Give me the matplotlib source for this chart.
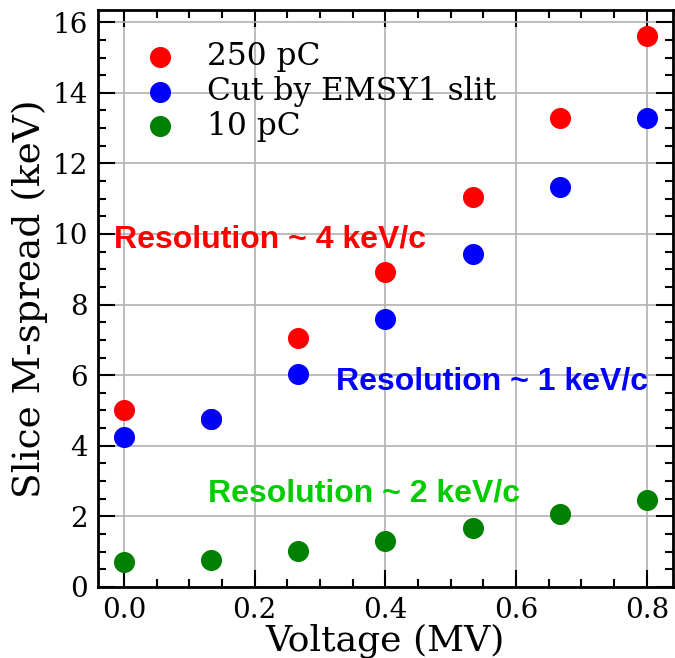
import numpy as np
import matplotlib
matplotlib.use("Agg")
import matplotlib.pyplot as plt
from matplotlib.ticker import MultipleLocator

# data
voltage = [0.0, 0.1333, 0.2667, 0.4, 0.5333, 0.6667, 0.8]
spread_250pc = [5.02, 4.75, 7.05, 8.92, 11.05, 13.3, 15.6]
spread_cut = [4.25, 4.75, 6.02, 7.6, 9.42, 11.32, 13.3]
spread_10pc = [0.7, 0.75, 1.02, 1.3, 1.68, 2.08, 2.45]

plt.rcParams['font.family'] = 'DejaVu Serif'

fig = plt.figure(figsize=(6.75, 6.58), dpi=100)
ax = fig.add_axes([0.145, 0.108, 0.852, 0.877])

ax.scatter(voltage, spread_250pc, s=200, c='red', label='250 pC', zorder=3)
ax.scatter(voltage, spread_cut, s=200, c='blue', label='Cut by EMSY1 slit', zorder=3)
ax.scatter(voltage, spread_10pc, s=200, c='green', label='10 pC', zorder=3)

ax.set_xlim(-0.04, 0.84)
ax.set_ylim(0, 16.35)
ax.xaxis.set_major_locator(MultipleLocator(0.2))
ax.xaxis.set_minor_locator(MultipleLocator(0.05))
ax.yaxis.set_major_locator(MultipleLocator(2))
ax.yaxis.set_minor_locator(MultipleLocator(0.5))
ax.tick_params(which='both', direction='in', top=True, right=True, labelsize=20, width=1.5)
ax.tick_params(which='major', length=12, pad=7)
ax.tick_params(which='minor', length=6)
for sp in ax.spines.values():
    sp.set_linewidth(2)
ax.grid(True, color='#b0b0b0', linewidth=1.2)
ax.set_axisbelow(True)

ax.set_xlabel('Voltage (MV)', fontsize=26, labelpad=0)
ax.set_ylabel('Slice M-spread (keV)', fontsize=27, labelpad=3)

ax.legend(loc='upper left', frameon=False, fontsize=22.5, handletextpad=0.5,
          borderaxespad=0.6, labelspacing=0.12, scatterpoints=1)

fnt = dict(family='Liberation Sans', fontweight='bold', fontsize=23)
ax.text(-0.015, 9.83, 'Resolution ~ 4 keV/c', color='red', va='center', **fnt)
ax.text(0.325, 5.83, 'Resolution ~ 1 keV/c', color='blue', va='center', **fnt)
ax.text(0.128, 2.65, 'Resolution ~ 2 keV/c', color='#00cc00', va='center', **fnt)

fig.savefig('out.png')
